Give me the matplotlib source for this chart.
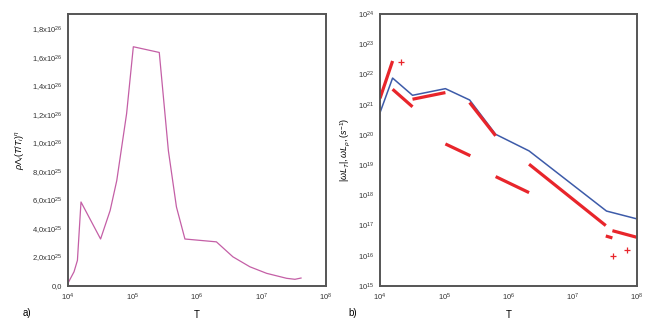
import numpy as np
import matplotlib
matplotlib.use("Agg")
import matplotlib.pyplot as plt
from matplotlib.ticker import FixedLocator, NullLocator

plt.rcParams['font.family'] = ['Liberation Sans', 'DejaVu Sans']
plt.rcParams['mathtext.fontset'] = 'custom'
plt.rcParams['mathtext.rm'] = 'Liberation Sans'
plt.rcParams['mathtext.it'] = 'Liberation Sans:italic'
plt.rcParams['mathtext.bf'] = 'Liberation Sans:bold'

# ---- panel a) data ----
T_a = [1.0e4, 1.24e4, 1.4e4, 1.59e4, 3.2e4, 4.5e4, 5.7e4, 8.1e4, 1.03e5, 2.6e5,
       3.6e5, 4.8e5, 6.5e5, 2.0e6, 3.6e6, 6.6e6, 1.2e7, 2.45e7, 3.3e7, 4.1e7]
val_a = [0.02e26, 0.10e26, 0.18e26, 0.59e26, 0.33e26, 0.53e26, 0.74e26, 1.21e26, 1.68e26, 1.64e26,
         0.95e26, 0.555e26, 0.33e26, 0.31e26, 0.205e26, 0.135e26, 0.089e26, 0.054e26, 0.047e26, 0.056e26]
yticks_a = [0, 0.2e26, 0.4e26, 0.6e26, 0.8e26, 1.0e26, 1.2e26, 1.4e26, 1.6e26, 1.8e26]
yticklabels_a = ['0,0', '2,0x10$^{25}$', '4,0x10$^{25}$', '6,0x10$^{25}$', '8,0x10$^{25}$',
                 '1,0x10$^{26}$', '1,2x10$^{26}$', '1,4x10$^{26}$', '1,6x10$^{26}$', '1,8x10$^{26}$']
xticks = [1e4, 1e5, 1e6, 1e7, 1e8]
xticklabels = ['10$^{4}$', '10$^{5}$', '10$^{6}$', '10$^{7}$', '10$^{8}$']

# ---- panel b) data (log10 values) ----
blue_logT = [4.0, 4.196, 4.506, 5.018, 5.395, 5.80, 6.32, 7.525, 8.0]
blue_logy = [20.735, 21.88, 21.31, 21.53, 21.155, 20.02, 19.47, 17.48, 17.22]

red_segments_logT = [(4.0, 4.196), (4.196, 4.506), (4.506, 5.018), (5.395, 5.80),
                     (5.018, 5.406), (5.80, 6.32), (6.32, 7.514), (7.514, 7.617), (7.617, 8.0)]
red_segments_logy = [(21.21, 22.445), (21.51, 20.93), (21.18, 21.40), (21.07, 19.97),
                     (19.70, 19.31), (18.62, 18.09), (19.03, 17.0), (16.655, 16.59), (16.83, 16.61)]

plus_logT = [4.331, 7.628, 7.85]
plus_logy = [22.4, 15.99, 16.19]

yticks_b = [10.0**k for k in range(15, 25)]
yticklabels_b = ['10$^{%d}$' % k for k in range(15, 25)]

fig = plt.figure(figsize=(6.55, 3.29), dpi=100)
frame_color = '#555555'
tick_fs = 5.5

def style(ax):
    for s in ax.spines.values():
        s.set_color(frame_color)
        s.set_linewidth(1.4)
    ax.tick_params(length=0, labelsize=tick_fs, colors='#333333', pad=4)

# panel a
axa = fig.add_axes([68/655, 1-286/329, 258/655, 272/329])
axa.plot(T_a, val_a, color='#c45fa6', lw=0.9)
axa.set_xscale('log')
axa.set_xlim(1e4, 1e8)
axa.set_ylim(0, 1.91e26)
axa.xaxis.set_major_locator(FixedLocator(xticks))
axa.xaxis.set_minor_locator(NullLocator())
axa.set_xticklabels(xticklabels)
axa.set_yticks(yticks_a)
axa.set_yticklabels(yticklabels_a)
style(axa)
axa.set_xlabel('T', fontsize=7, labelpad=5)
axa.set_ylabel(r'$\rho\Lambda_i(T/T_i)^{\eta}$', fontsize=6.5, labelpad=4)
fig.text(23/655, 1-313/329, 'a)', fontsize=7, ha='left', va='center')

# panel b
axb = fig.add_axes([380/655, 1-286/329, 257/655, 272/329])
axb.plot([10**v for v in blue_logT], [10**v for v in blue_logy], color='#3d5ba9', lw=1.1)
for (t0, t1), (y0, y1) in zip(red_segments_logT, red_segments_logy):
    axb.plot([10**t0, 10**t1], [10**y0, 10**y1], color='#e8252b', lw=2.3, solid_capstyle='butt')
axb.plot([10**v for v in plus_logT], [10**v for v in plus_logy], linestyle='none',
         marker='+', color='#e8252b', markersize=5, mew=0.9)
axb.set_xscale('log')
axb.set_yscale('log')
axb.set_xlim(1e4, 1e8)
axb.set_ylim(1e15, 1e24)
axb.xaxis.set_major_locator(FixedLocator(xticks))
axb.xaxis.set_minor_locator(NullLocator())
axb.set_xticklabels(xticklabels)
axb.yaxis.set_major_locator(FixedLocator(yticks_b))
axb.yaxis.set_minor_locator(NullLocator())
axb.set_yticklabels(yticklabels_b)
style(axb)
axb.set_xlabel('T', fontsize=7, labelpad=5)
axb.set_ylabel(r'$|\omega L_T|, \omega L_\rho, (s^{-1})$', fontsize=6.5, labelpad=4)
fig.text(348/655, 1-313/329, 'b)', fontsize=7, ha='left', va='center')

fig.savefig('out.png', dpi=100)
